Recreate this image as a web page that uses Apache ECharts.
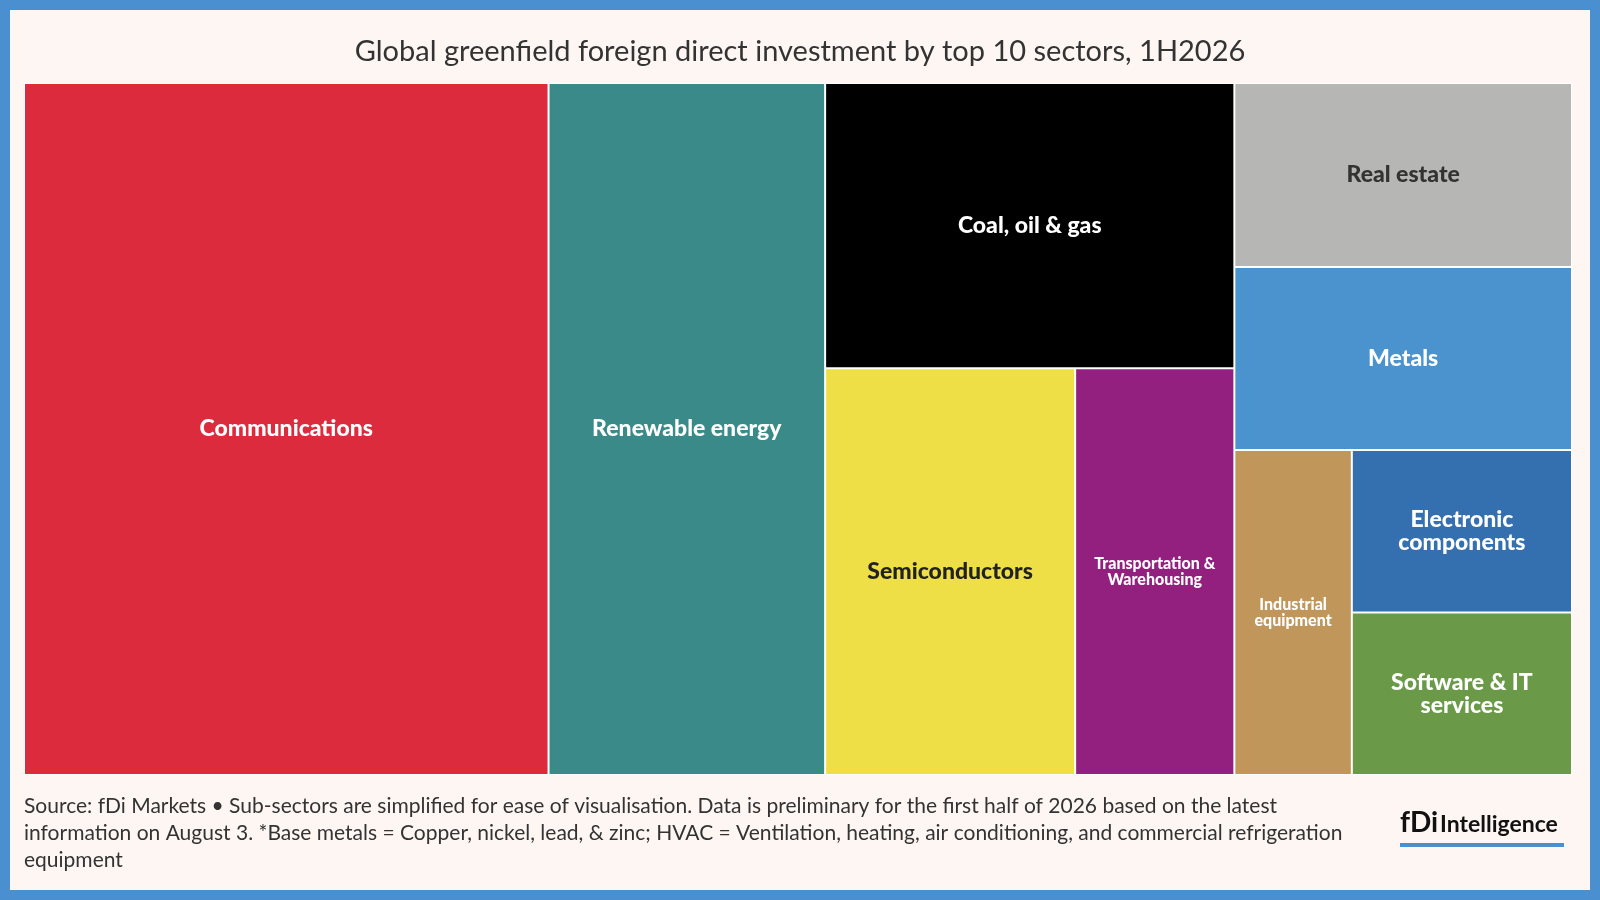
<!DOCTYPE html>
<html>
<head>
<meta charset="utf-8">
<script src="https://cdn.jsdelivr.net/npm/echarts@6/dist/echarts.min.js"></script>
<style>
  html, body { margin: 0; padding: 0; background: #4a90d0; }
  #wrap { position: absolute; left: 10px; top: 10px; width: 1580px; height: 880px; background: #fdf6f2; }
  #chart { width: 1580px; height: 880px; }
</style>
</head>
<body>
<div id="wrap"><div id="chart"></div></div>
<script>
// sector names and relative values (estimated from tile areas)
var sectors = ['Communications', 'Renewable energy', 'Coal, oil & gas', 'Semiconductors',
  'Transportation &\nWarehousing', 'Real estate', 'Metals', 'Industrial\nequipment',
  'Electronic\ncomponents', 'Software & IT\nservices'];
var values = [348, 183.5, 111.9, 97.5, 62.1, 59.6, 59.2, 36.6, 34.3, 34.3];
var colors = ['#dc2b3c', '#3a8a8a', '#000000', '#efdf47', '#931f7f', '#b6b6b4',
  '#4a93cf', '#c0965a', '#3470b0', '#6a9a48'];
var labelColors = ['#fff', '#fff', '#fff', '#222', '#fff', '#333', '#fff', '#fff', '#fff', '#fff'];
var labelSizes = [23, 23, 23, 23, 16, 23, 23, 16, 23, 23];

function leaf(i) {
  return {
    name: sectors[i], value: values[i],
    itemStyle: { color: colors[i], borderColor: '#fff', borderWidth: 1 },
    label: { color: labelColors[i], fontSize: labelSizes[i], lineHeight: labelSizes[i] }
  };
}
// nested grouping only to steer the tile layout
function group(children) {
  var sum = 0;
  children.forEach(function (c) { sum += c.value; });
  return { name: '', value: sum, children: children,
    itemStyle: { borderWidth: 0, gapWidth: 0 } };
}
var tree = [leaf(0), group([leaf(1), group([
  group([leaf(2), group([leaf(3), leaf(4)])]),
  group([leaf(5), leaf(6), group([leaf(7), group([leaf(8), leaf(9)])])])
])])];

var chart = echarts.init(document.getElementById('chart'));
chart.setOption({
  textStyle: { fontFamily: 'Lato' },
  title: {
    text: 'Global greenfield foreign direct investment by top 10 sectors, 1H2026',
    left: 'center', top: 22,
    textStyle: { fontFamily: 'Lato', fontSize: 29, fontWeight: 'normal', color: '#333' }
  },
  graphic: [
    { type: 'text', left: 14, top: 783, style: {
      text: 'Source: fDi Markets \u2022 Sub-sectors are simplified for ease of visualisation. Data is preliminary for the first half of 2026 based on the latest\ninformation on August 3. *Base metals = Copper, nickel, lead, & zinc; HVAC = Ventilation, heating, air conditioning, and commercial refrigeration\nequipment',
      font: '21px Lato', fill: '#333', lineHeight: 27 } },
    { type: 'text', left: 1390, top: 799, style: { text: 'fDi', font: 'bold 28px Lato', fill: '#111' } },
    { type: 'text', left: 1430, top: 803, style: { text: 'Intelligence', font: 'bold 23px Lato', fill: '#111' } },
    { type: 'rect', left: 1390, top: 833, shape: { width: 164, height: 4 }, style: { fill: '#4a90d0' } }
  ],
  series: [{
    type: 'treemap',
    left: 14, top: 73, width: 1548, height: 692,
    roam: false, nodeClick: false,
    breadcrumb: { show: false },
    sort: false,
    squareRatio: 1,
    label: { show: true, position: 'inside', align: 'center', verticalAlign: 'middle',
      fontFamily: 'Lato', fontWeight: 900 },
    upperLabel: { show: false },
    itemStyle: { borderWidth: 0, gapWidth: 0 },
    data: tree
  }]
});
</script>
</body>
</html>
